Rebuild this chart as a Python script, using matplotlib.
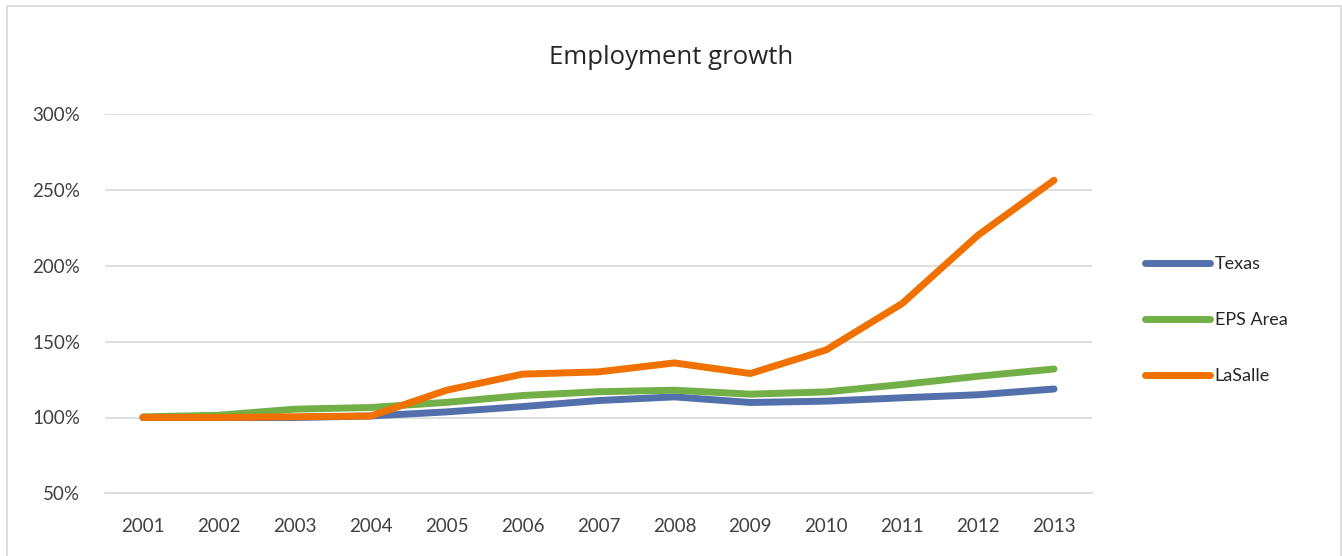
import matplotlib
matplotlib.use("Agg")
import matplotlib.pyplot as plt
from matplotlib.patches import Rectangle
from matplotlib.ticker import FuncFormatter

years = ["2001", "2002", "2003", "2004", "2005", "2006", "2007",
         "2008", "2009", "2010", "2011", "2012", "2013"]
texas = [100, 100, 100, 101, 103.7, 107.2, 111.2, 113.6, 109.9, 110.8, 113.0, 115.0, 118.8]
eps_area = [100.4, 101.5, 105.5, 106.6, 110.0, 114.5, 117.0, 118.0, 115.4, 116.9, 121.8, 127.2, 132.0]
lasalle = [100, 100, 100.5, 101, 118.0, 128.6, 130.1, 136.0, 129.0, 144.6, 175.2, 220.3, 256.5]
series_names = ["Texas", "EPS Area", "LaSalle"]
y_ticks = [50, 100, 150, 200, 250, 300]

colors = ["#5470AC", "#72AF46", "#F07100"]

W, H = 1342, 556
fig = plt.figure(figsize=(W / 100, H / 100), dpi=100)
fig.patch.set_facecolor("white")

left, right = 105 / W, 1092 / W
bottom, top = 1 - 493.3 / H, 1 - 114.3 / H
ax = fig.add_axes([left, bottom, right - left, top - bottom])

x = list(range(len(years)))
for vals, name, c in zip([texas, eps_area, lasalle], series_names, colors):
    ax.plot(x, vals, color=c, lw=5.0, label=name, solid_capstyle="round",
            solid_joinstyle="round", zorder=3)

ax.set_xlim(-0.5, len(years) - 0.5)
ax.set_ylim(50, 300)
ax.set_yticks(y_ticks)
ax.yaxis.set_major_formatter(FuncFormatter(lambda v, p: f"{int(v)}%"))
ax.set_xticks(x)
ax.set_xticklabels(years)
ax.grid(axis="y", color="#d9d9d9", lw=1.2, zorder=0)
for s in ["left", "right", "top"]:
    ax.spines[s].set_visible(False)
ax.spines["bottom"].set_color("#d9d9d9")
ax.spines["bottom"].set_linewidth(1.2)
ax.tick_params(axis="both", length=0, labelcolor="#404040")
ax.tick_params(axis="y", pad=18)
ax.tick_params(axis="x", pad=17.5)
for lab in ax.get_xticklabels() + ax.get_yticklabels():
    lab.set_fontfamily("Lato")
    lab.set_fontsize(13.5)

fig.text(0.5, 1 - 57 / H, "Employment growth", ha="center", va="center",
         fontsize=18.5, family="Open Sans", color="#262626")

leg = fig.legend(loc="upper left", bbox_to_anchor=(1145 / W, 1 - 256 / H),
                 frameon=False, borderpad=0, borderaxespad=0,
                 handlelength=3.6, handletextpad=0.25, labelspacing=2.22,
                 prop={"family": "Lato", "size": 13})
for t in leg.get_texts():
    t.set_color("#262626")

fig.patches.append(Rectangle((6.5 / W, -0.01), (1340.5 - 6.5) / W, 1 - 5.5 / H + 0.01,
                             transform=fig.transFigure, fill=False,
                             edgecolor="#d9d9d9", lw=1.2))

fig.savefig("out.png", dpi=100)
